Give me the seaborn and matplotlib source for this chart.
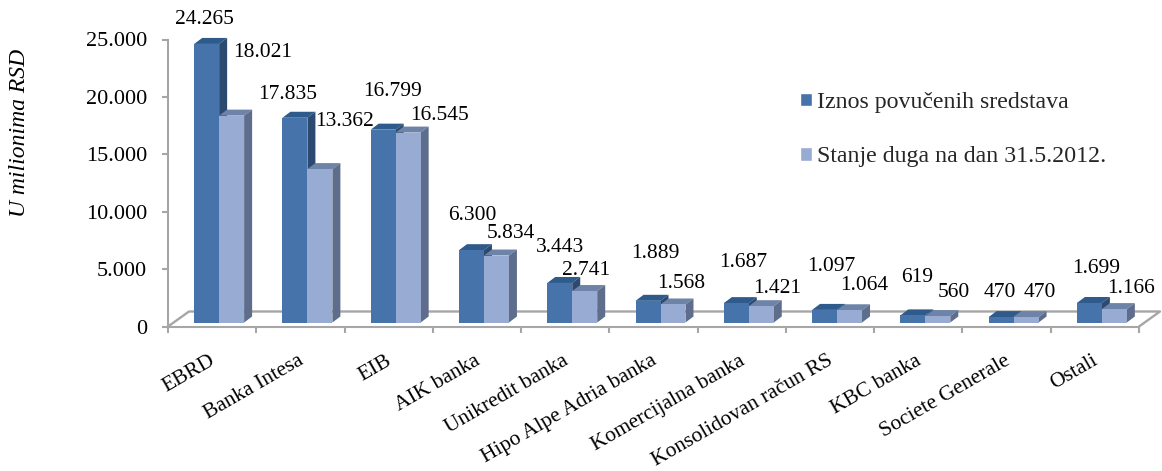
import matplotlib
matplotlib.use("Agg")
import matplotlib.pyplot as plt
import pandas as pd
import seaborn as sns
from matplotlib.patches import Polygon

# Values
banks = ['EBRD', 'Banka Intesa', 'EIB', 'AIK banka', 'Unikredit banka', 'Hipo Alpe Adria banka',
         'Komercijalna banka', 'Konsolidovan račun RS', 'KBC banka', 'Societe Generale', 'Ostali']
povuceno = [24265, 17835, 16799, 6300, 3443, 1889, 1687, 1097, 619, 470, 1699]
stanje = [18021, 13362, 16545, 5834, 2741, 1568, 1421, 1064, 560, 470, 1166]
series_names = ['Iznos povučenih sredstava', 'Stanje duga na dan 31.5.2012.']
yticks = [0, 5000, 10000, 15000, 20000, 25000]
ytick_labels = ['0', '5.000', '10.000', '15.000', '20.000', '25.000']

# Label offsets from the top of each bar, in pixels
offsets_povuceno = [(-2, 24), (-7, 23), (9, 38), (1, 35), (0, 35), (7, 47), (7, 41), (7, 43), (4, 38), (-1, 25), (7, 34)]
offsets_stanje = [(31, 63), (25, 48), (31, 17), (14, 22), (1, 21), (8, 21), (16, 18), (15, 25), (16, 24), (14, 25), (17, 21)]

FRONT = ['#4673A9', '#98ABD3']
TOP = ['#2F5A8C', '#6E83A8']
SIDE = ['#2C4A70', '#5D6D8B']
GREY = '#A6A6A6'

sns.set_theme(style='white')
plt.rcParams['font.family'] = ['Liberation Serif', 'DejaVu Serif']

df = pd.DataFrame({
    'banka': banks * 2,
    'iznos': povuceno + stanje,
    'serija': [series_names[0]] * len(banks) + [series_names[1]] * len(banks),
})

W, H = 1162, 471
fig = plt.figure(figsize=(W / 100, H / 100), dpi=100)
ax = fig.add_axes([168 / W, 1 - 326.5 / H, 971 / W, 287 / H])

sns.barplot(data=df, x='banka', y='iznos', hue='serija', palette=FRONT, width=0.566, gap=0,
            saturation=1, ax=ax, zorder=3)

ax.set_xlim(-0.5, 10.5)
ax.set_ylim(0, 25000)
px_x = 11 / 971
px_y = 25000 / 287

# Floor behind the bars
floor_dx, floor_dy = 21 * px_x, 15 * px_y
ax.plot([-0.5, -0.5 + floor_dx, 10.5 + floor_dx, 10.5], [0, floor_dy, floor_dy, 0],
        color=GREY, lw=1.7, clip_on=False, zorder=1)

# Fake 3D faces built from the bars seaborn drew
depth_x, depth_y = 8 * px_x, 6 * px_y
for s, (container, offs) in enumerate(zip(ax.containers, [offsets_povuceno, offsets_stanje])):
    for bar, off in zip(container, offs):
        value = bar.get_height()
        bar.set_x(bar.get_x() + 7 * px_x)
        bar.set_y(4 * px_y)
        bar.set_clip_on(False)
        bar.set_edgecolor('none')
        x0 = bar.get_x()
        x1 = x0 + bar.get_width()
        y0 = bar.get_y()
        y1 = y0 + value
        z = 2 + s
        bar.set_zorder(z + 0.5)
        ax.add_patch(Polygon([(x0, y1), (x1, y1), (x1 + depth_x, y1 + depth_y), (x0 + depth_x, y1 + depth_y)],
                             closed=True, fc=TOP[s], ec='none', clip_on=False, zorder=z))
        ax.add_patch(Polygon([(x1, y0), (x1, y1), (x1 + depth_x, y1 + depth_y), (x1 + depth_x, y0 + depth_y)],
                             closed=True, fc=SIDE[s], ec='none', clip_on=False, zorder=z))
        ax.annotate(f'{int(value):,}'.replace(',', '.'), xy=((x0 + x1) / 2, y1), xytext=off,
                    textcoords='offset pixels', ha='center', va='center',
                    fontsize=15.5, color='black', zorder=6, annotation_clip=False)

sns.despine(ax=ax)
for name in ['left', 'bottom']:
    ax.spines[name].set_color(GREY)
    ax.spines[name].set_linewidth(1.5)

ax.set_yticks(yticks, ytick_labels, fontsize=16, color='black')
ax.tick_params(axis='y', left=True, length=4, width=1.5, color=GREY, pad=11)
# labels sit a little left of the category centres
ax.set_xticks([i - 3 * px_x for i in range(len(banks))], banks, rotation=30, ha='right',
              rotation_mode='anchor', fontsize=15.5, color='black')
ax.set_xticks([i - 0.5 for i in range(len(banks) + 1)], minor=True)
ax.tick_params(axis='x', which='major', bottom=False, pad=12)
ax.tick_params(axis='x', which='minor', bottom=True, length=4, width=1.5, color=GREY)
ax.set_xlabel('')
ax.set_ylabel('')
fig.text(20 / W, 1 - 133 / H, 'U milionima RSD', rotation=90, style='italic', fontsize=17,
         ha='center', va='center', color='black')

ax.legend(title=None, frameon=False, fontsize=17.2, loc='upper left',
          bbox_to_anchor=((800 - 168) / 971, (326.5 - 92) / 287), borderaxespad=0, borderpad=0,
          handlelength=0.5, handleheight=0.5, handletextpad=0.2, labelspacing=1.4)

fig.savefig('out.png', dpi=100)
